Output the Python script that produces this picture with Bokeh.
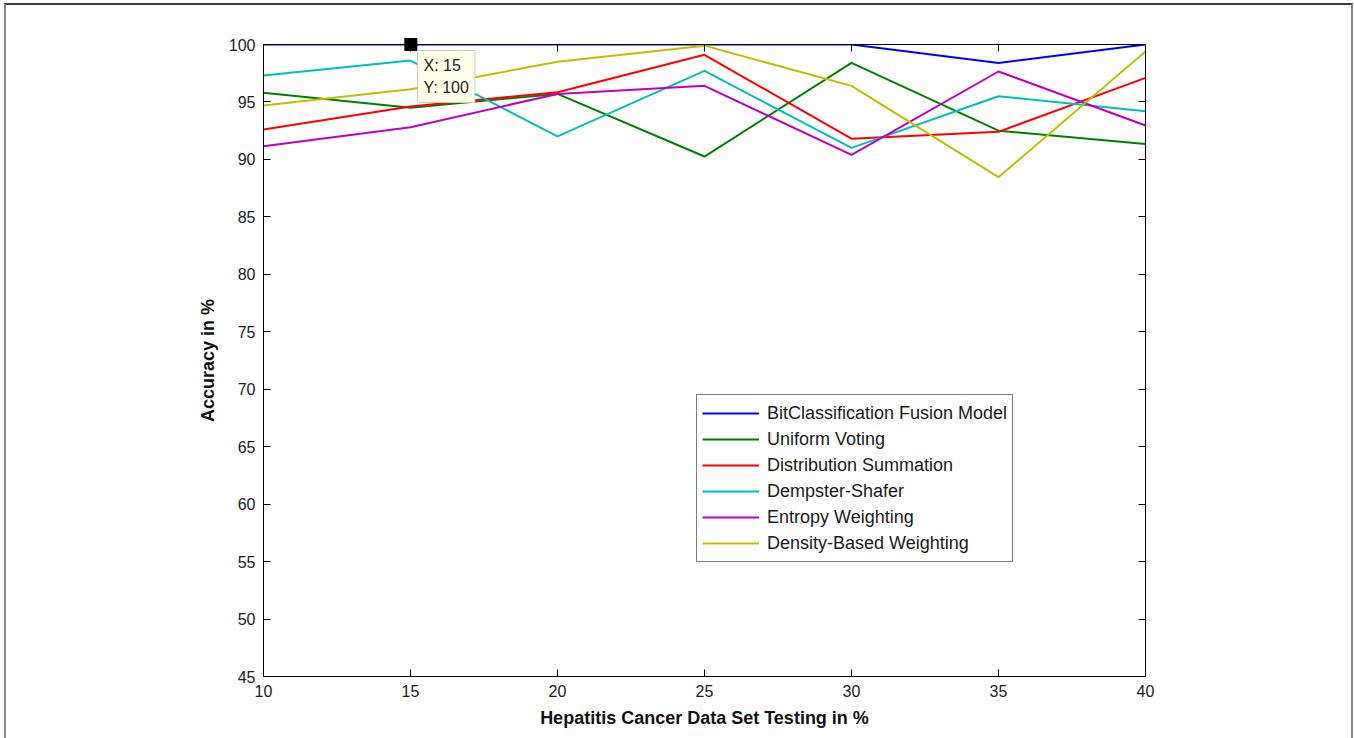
from bokeh.plotting import figure
from bokeh.models import (Range1d, LinearAxis, FixedTicker, Legend, LegendItem,
                          Label, CustomJSTickFormatter)
from bokeh.embed import file_html
from bokeh.resources import INLINE

# Test split sizes (% of the hepatitis data set held out for testing)
test_pct = [10, 15, 20, 25, 30, 35, 40]

# Accuracy (%) of each fusion method
bitclass_fusion = [100, 100, 100, 100, 100, 98.4, 100]
uniform_voting = [95.8, 94.5, 95.7, 90.25, 98.4, 92.5, 91.35]
distribution_summation = [92.6, 94.6, 95.85, 99.1, 91.8, 92.4, 97.1]
dempster_shafer = [97.3, 98.6, 92.0, 97.7, 91.0, 95.5, 94.2]
entropy_weighting = [91.15, 92.8, 95.7, 96.4, 90.4, 97.65, 92.95]
density_weighting = [94.7, 96.1, 98.5, 99.9, 96.4, 88.45, 99.4]

series_names = ["BitClassification Fusion Model", "Uniform Voting",
                "Distribution Summation", "Dempster-Shafer",
                "Entropy Weighting", "Density-Based Weighting"]
series_values = [bitclass_fusion, uniform_voting, distribution_summation,
                 dempster_shafer, entropy_weighting, density_weighting]
series_colors = ["#0000FF", "#008000", "#FF0000", "#00BFBF", "#BF00BF", "#BFBF00"]

x_ticks = [10, 15, 20, 25, 30, 35, 40]
y_ticks = [45, 50, 55, 60, 65, 70, 75, 80, 85, 90, 95, 100]

# Data cursor point
cursor_x = 15
cursor_y = 100

FONT = "Liberation Sans"

# Thin window frame drawn around the whole figure (no effect on layout)
frame_css = """
:host::after {
  content: '';
  position: absolute;
  left: 4px;
  top: 3px;
  width: 1349px;
  height: 735px;
  box-sizing: border-box;
  border-left: 2px solid #8a8a8a;
  border-right: 2px solid #8a8a8a;
  border-top: 2px solid #3a3a3a;
  border-bottom: none;
  pointer-events: none;
}
"""

p = figure(width=1354, height=738, output_backend="svg", toolbar_location=None,
           x_range=Range1d(10, 40), y_range=Range1d(45, 100),
           min_border_left=263, min_border_right=209,
           min_border_top=44, min_border_bottom=62,
           stylesheets=[frame_css])
p.background_fill_color = "white"
p.border_fill_color = "white"
p.outline_line_color = "black"
p.outline_line_width = 1
p.xgrid.visible = False
p.ygrid.visible = False

def style_axis(ax, ticks):
    ax.ticker = FixedTicker(ticks=ticks)
    ax.axis_line_color = "black"
    ax.axis_line_width = 1
    ax.major_tick_line_color = "black"
    ax.major_tick_in = 7
    ax.major_tick_out = 0
    ax.minor_tick_line_color = None
    ax.major_label_text_font = FONT
    ax.major_label_text_font_size = "16px"
    ax.major_label_text_color = "#222222"
    ax.axis_label_text_font = FONT
    ax.axis_label_text_font_size = "18px"
    ax.axis_label_text_font_style = "bold"
    ax.axis_label_text_color = "#111111"

xa = p.xaxis[0]
style_axis(xa, x_ticks)
xa.axis_label = "Hepatitis Cancer Data Set Testing in %"
xa.major_label_standoff = 8
xa.axis_label_standoff = 8

ya = p.yaxis[0]
style_axis(ya, y_ticks)
ya.axis_label = "Accuracy in %"
ya.major_label_standoff = 8
ya.axis_label_standoff = 8

# Box axes on the top and right, ticks only
blank = CustomJSTickFormatter(code="return ''")
top_ax = LinearAxis()
style_axis(top_ax, x_ticks)
top_ax.formatter = blank
top_ax.major_label_standoff = 0
p.add_layout(top_ax, "above")
right_ax = LinearAxis()
style_axis(right_ax, y_ticks)
right_ax.formatter = blank
right_ax.major_label_standoff = 0
p.add_layout(right_ax, "right")

items = []
for name, vals, col in zip(series_names, series_values, series_colors):
    r = p.line(test_pct, vals, line_color=col, line_width=2)
    items.append(LegendItem(label=name, renderers=[r]))

legend = Legend(items=items, location=(433, 114), margin=0, padding=5,
                spacing=0, glyph_width=57, glyph_height=26, label_height=26,
                label_standoff=8, label_text_font=FONT,
                label_text_font_size="18px", label_text_color="#1a1a1a",
                border_line_color="black", border_line_width=1,
                background_fill_color="white", background_fill_alpha=1)
p.add_layout(legend, "center")

# Data cursor marker; placed in the top panel so the frame edge does not cut it
marker = Label(x=cursor_x, y=cursor_y, y_offset=2, text="\u25A0",
               text_font="DejaVu Sans", text_font_size="17px",
               text_color="black", text_align="center",
               text_baseline="middle")
p.add_layout(marker, "above")

# Readout box of the data cursor
tip = Label(x=cursor_x, y=cursor_y, x_offset=7, y_offset=-6,
            text=f"X: {cursor_x}\nY: {cursor_y}",
            text_font=FONT, text_font_size="16px", text_color="#222222",
            text_align="left", text_baseline="top", text_line_height=1.35,
            background_fill_color="#FFFFE8", background_fill_alpha=1,
            border_line_color="#CFCFBF", border_line_width=1, padding=6)
p.add_layout(tip)

open("out.html", "w").write(file_html(p, INLINE))
